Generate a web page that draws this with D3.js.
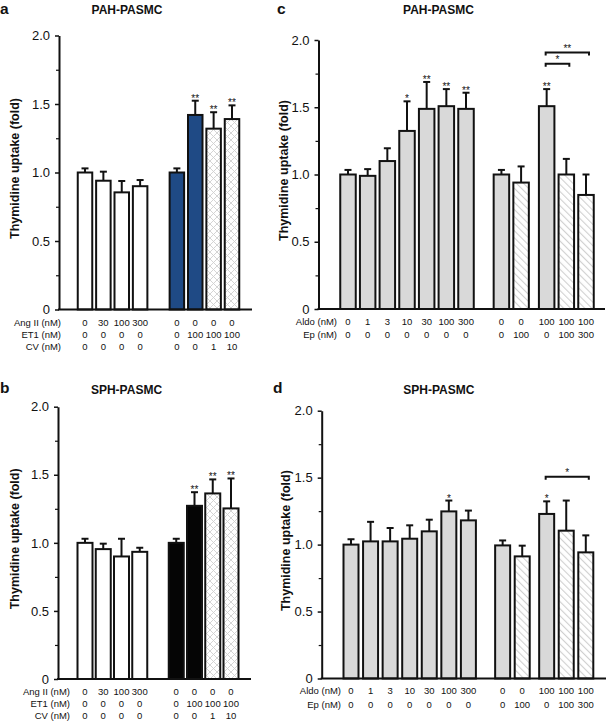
<!DOCTYPE html>
<html><head><meta charset="utf-8">
<script src="https://cdn.jsdelivr.net/npm/d3@7"></script>
<style>body{margin:0;background:#fff} text{font-family:"Liberation Sans",Arial,Helvetica,sans-serif;fill:#111}</style>
</head><body><svg id="chart" width="606" height="722"></svg>
<script>
// ---------- DATA ----------
const yTicks = [0, 0.5, 1.0, 1.5, 2.0];
const yTickLabels = ["0", "0.5", "1.0", "1.5", "2.0"];
const yMinorTicks = [0.25, 0.75, 1.25, 1.75];
const yLabel = "Thymidine uptake (fold)";

// Panel a: PAH-PASMC, Ang II / ET1 / CV
const aRowLabels = ["Ang II (nM)", "ET1 (nM)", "CV (nM)"];
const aAngII = ["0", "30", "100", "300", "0", "0", "0", "0"];
const aET1 = ["0", "0", "0", "0", "0", "100", "100", "100"];
const aCV = ["0", "0", "0", "0", "0", "0", "1", "10"];
const aMean = [1.00, 0.94, 0.855, 0.90, 1.00, 1.42, 1.32, 1.39];
const aErr = [0.03, 0.066, 0.083, 0.045, 0.03, 0.104, 0.12, 0.10];
const aSig = ["", "", "", "", "", "**", "**", "**"];
const aGroup = [0, 0, 0, 0, 1, 1, 1, 1];
const aFill = ["white", "white", "white", "white", "blue", "blue", "cross", "cross"];

// Panel b: SPH-PASMC, Ang II / ET1 / CV
const bRowLabels = ["Ang II (nM)", "ET1 (nM)", "CV (nM)"];
const bAngII = ["0", "30", "100", "300", "0", "0", "0", "0"];
const bET1 = ["0", "0", "0", "0", "0", "100", "100", "100"];
const bCV = ["0", "0", "0", "0", "0", "0", "1", "10"];
const bMean = [1.00, 0.954, 0.90, 0.934, 1.00, 1.272, 1.363, 1.253];
const bErr = [0.03, 0.04, 0.13, 0.03, 0.03, 0.10, 0.103, 0.22];
const bSig = ["", "", "", "", "", "**", "**", "**"];
const bGroup = [0, 0, 0, 0, 1, 1, 1, 1];
const bFill = ["white", "white", "white", "white", "black", "black", "cross", "cross"];

// Panel c: PAH-PASMC, Aldo / Ep
const cRowLabels = ["Aldo (nM)", "Ep (nM)"];
const cAldo = ["0", "1", "3", "10", "30", "100", "300", "0", "0", "100", "100", "100"];
const cEp = ["0", "0", "0", "0", "0", "0", "0", "0", "100", "0", "100", "300"];
const cMean = [1.00, 0.99, 1.10, 1.324, 1.488, 1.508, 1.488, 1.00, 0.94, 1.508, 1.00, 0.848];
const cErr = [0.034, 0.05, 0.095, 0.22, 0.20, 0.127, 0.12, 0.034, 0.12, 0.127, 0.116, 0.152];
const cSig = ["", "", "", "*", "**", "**", "**", "", "", "**", "", ""];
const cGroup = [0, 0, 0, 0, 0, 0, 0, 1, 1, 2, 2, 2];
const cFill = ["gray", "gray", "gray", "gray", "gray", "gray", "gray", "gray", "hatch", "gray", "hatch", "hatch"];
const cBrackets = [{from: 9, to: 10, level: 1.823, label: "*"}, {from: 9, to: 11, level: 1.907, label: "**"}];

// Panel d: SPH-PASMC, Aldo / Ep
const dRowLabels = ["Aldo (nM)", "Ep (nM)"];
const dAldo = ["0", "1", "3", "10", "30", "100", "300", "0", "0", "100", "100", "100"];
const dEp = ["0", "0", "0", "0", "0", "0", "0", "0", "100", "0", "100", "300"];
const dMean = [1.00, 1.024, 1.024, 1.044, 1.099, 1.248, 1.181, 0.994, 0.912, 1.229, 1.104, 0.942];
const dErr = [0.04, 0.146, 0.10, 0.10, 0.087, 0.081, 0.073, 0.037, 0.08, 0.094, 0.225, 0.127];
const dSig = ["", "", "", "", "", "*", "", "", "", "*", "", ""];
const dGroup = [0, 0, 0, 0, 0, 0, 0, 1, 1, 2, 2, 2];
const dFill = ["gray", "gray", "gray", "gray", "gray", "gray", "gray", "gray", "hatch", "gray", "hatch", "hatch"];
const dBrackets = [{from: 9, to: 11, level: 1.506, label: "*"}];

// ---------- STYLE ----------
const ink = "#111";
const fillMap = {white: "#ffffff", blue: "#1f4a85", black: "#050505", gray: "#d9d9d9", cross: "url(#cross)", hatch: "url(#hatch)"};

const svg = d3.select("#chart");
const defs = svg.append("defs");
const pc = defs.append("pattern").attr("id", "cross").attr("patternUnits", "userSpaceOnUse")
  .attr("width", 7).attr("height", 7);
pc.append("rect").attr("width", 7).attr("height", 7).attr("fill", "#fff");
pc.append("path").attr("d", "M0,0 L7,7 M7,0 L0,7").attr("stroke", "#cfcfcf").attr("stroke-width", 0.9);
const ph = defs.append("pattern").attr("id", "hatch").attr("patternUnits", "userSpaceOnUse")
  .attr("width", 5).attr("height", 5).attr("patternTransform", "rotate(-45)");
ph.append("rect").attr("width", 5).attr("height", 5).attr("fill", "#fff");
ph.append("line").attr("x1", 0).attr("y1", 0).attr("x2", 0).attr("y2", 5).attr("stroke", "#d0d0d0").attr("stroke-width", 2.2);

function drawPanel(p, L) {
  const g = svg.append("g");
  const y = d3.scaleLinear().domain([0, 2]).range([L.y0, L.y2]);
  const cum = [0];
  L.gaps.forEach((v, i) => cum.push(cum[i] + v));
  const slots = p.means.map((_, i) => i + cum[p.groups[i]]);
  const x = d3.scaleLinear().domain([0, slots[slots.length - 1]]).range([L.first, L.last]);
  const cx = i => x(slots[i]);

  // letter + title
  g.append("text").attr("x", L.letterX).attr("y", L.letterY).attr("font-size", 15.5).attr("font-weight", "bold").text(p.letter);
  g.append("text").attr("x", L.titleX).attr("y", L.titleY).attr("text-anchor", "middle").attr("font-size", 12).attr("font-weight", "bold").text(p.title);

  // y axis
  const ya = g.append("g").attr("transform", `translate(${L.axisX},0)`)
    .call(d3.axisLeft(y).tickValues(yTicks).tickFormat((d, i) => yTickLabels[i]).tickSize(4).tickSizeOuter(0).tickPadding(5));
  ya.select(".domain").attr("stroke", ink).attr("stroke-width", 2);
  ya.selectAll(".tick line").attr("stroke", ink).attr("stroke-width", 1.5);
  ya.selectAll(".tick text").attr("font-size", 13).attr("font-family", "Liberation Sans, Arial, sans-serif").attr("fill", ink);
  const ym = g.append("g").attr("transform", `translate(${L.axisX},0)`)
    .call(d3.axisLeft(y).tickValues(yMinorTicks).tickFormat("").tickSize(3).tickSizeOuter(0));
  ym.select(".domain").remove();
  ym.selectAll(".tick line").attr("stroke", ink).attr("stroke-width", 1.2);

  g.append("text").attr("transform", `translate(${L.ylabX},${y(1) - 4}) rotate(-90)`)
    .attr("text-anchor", "middle").attr("font-size", 12.5).attr("font-weight", "bold").text(yLabel);

  // bars
  const w = L.barW;
  const bars = g.append("g");
  const stars = g.append("g").attr("opacity", 0.995);
  p.means.forEach((m, i) => {
    const top = y(m + p.errs[i]);
    bars.append("line").attr("x1", cx(i)).attr("x2", cx(i)).attr("y1", y(m)).attr("y2", top).attr("stroke", ink).attr("stroke-width", 2);
    bars.append("line").attr("x1", cx(i) - 3.5).attr("x2", cx(i) + 3.5).attr("y1", top).attr("y2", top).attr("stroke", ink).attr("stroke-width", 2);
    bars.append("rect").attr("x", cx(i) - w / 2).attr("y", y(m)).attr("width", w).attr("height", y(0) - y(m))
      .attr("fill", fillMap[p.fills[i]]).attr("stroke", ink).attr("stroke-width", 2);
    if (p.sigs[i]) {
      stars.append("text").attr("x", cx(i)).attr("y", top + 1).attr("text-anchor", "middle").attr("font-size", 10)
        .style("fill", "#111").text(p.sigs[i]);
    }
  });

  // x axis line
  g.append("line").attr("x1", L.axisX - 1).attr("x2", L.xEnd).attr("y1", y(0)).attr("y2", y(0)).attr("stroke", ink).attr("stroke-width", 2);

  // brackets
  (p.brackets || []).forEach(b => {
    const yy = y(b.level), x1 = cx(b.from) - 1, x2 = cx(b.to) + 3;
    g.append("path").attr("d", `M${x1},${yy + 3}V${yy}H${x2}V${yy + 3}`).attr("fill", "none").attr("stroke", ink).attr("stroke-width", 2);
    stars.append("text").attr("x", (x1 + x2) / 2).attr("y", yy - 1).attr("text-anchor", "middle").attr("font-size", 10).text(b.label);
  });

  // table
  p.rows.forEach((row, r) => {
    const ry = L.rowY + r * L.rowStep;
    g.append("text").attr("x", L.rowLabX).attr("y", ry).attr("text-anchor", "end").attr("font-size", 9.5).text(p.rowLabels[r]);
    row.forEach((v, i) => {
      g.append("text").attr("x", cx(i)).attr("y", ry).attr("text-anchor", "middle").attr("font-size", 9.5).text(v);
    });
  });
}

drawPanel({letter: "a", title: "PAH-PASMC", means: aMean, errs: aErr, sigs: aSig, groups: aGroup, fills: aFill,
  rows: [aAngII, aET1, aCV], rowLabels: aRowLabels},
  {y0: 309.5, y2: 35.5, axisX: 59, xEnd: 252, first: 85, last: 232, gaps: [1], barW: 14.5,
   letterX: 0, letterY: 14, titleX: 127, titleY: 14, ylabX: 19, rowY: 325.5, rowStep: 12.3, rowLabX: 61});

drawPanel({letter: "b", title: "SPH-PASMC", means: bMean, errs: bErr, sigs: bSig, groups: bGroup, fills: bFill,
  rows: [bAngII, bET1, bCV], rowLabels: bRowLabels},
  {y0: 679, y2: 406.7, axisX: 58, xEnd: 251, first: 85, last: 231, gaps: [1], barW: 15,
   letterX: 0, letterY: 393, titleX: 126.5, titleY: 393.5, ylabX: 19, rowY: 694.8, rowStep: 12, rowLabX: 70});

drawPanel({letter: "c", title: "PAH-PASMC", means: cMean, errs: cErr, sigs: cSig, groups: cGroup, fills: cFill,
  rows: [cAldo, cEp], rowLabels: cRowLabels, brackets: cBrackets},
  {y0: 309, y2: 40, axisX: 318.5, xEnd: 605, first: 348, last: 586, gaps: [0.8, 0.3], barW: 15.5,
   letterX: 277, letterY: 14, titleX: 438.5, titleY: 13.5, ylabX: 288, rowY: 324.5, rowStep: 13.3, rowLabX: 337});

drawPanel({letter: "d", title: "SPH-PASMC", means: dMean, errs: dErr, sigs: dSig, groups: dGroup, fills: dFill,
  rows: [dAldo, dEp], rowLabels: dRowLabels, brackets: dBrackets},
  {y0: 678.5, y2: 410.7, axisX: 321.7, xEnd: 606, first: 351, last: 585.8, gaps: [0.75, 0.25], barW: 15,
   letterX: 273, letterY: 393, titleX: 438.8, titleY: 394, ylabX: 290, rowY: 694, rowStep: 13.8, rowLabX: 341});
</script></body></html>
